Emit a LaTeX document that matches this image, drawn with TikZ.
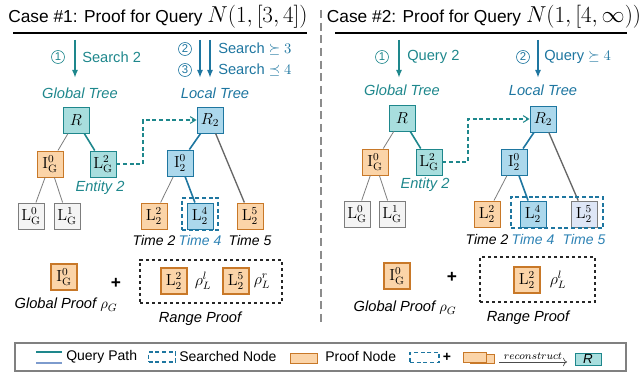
\documentclass[tikz,border=0pt]{standalone}
\usepackage[no-math]{fontspec}
\setmainfont{Liberation Sans}
\usetikzlibrary{arrows.meta}

\definecolor{tealD}{RGB}{30,135,140}
\definecolor{tealL}{RGB}{168,222,222}
\definecolor{blueD}{RGB}{30,118,160}
\definecolor{blueL}{RGB}{172,216,236}
\definecolor{blueT}{RGB}{45,130,180}
\definecolor{orangeD}{RGB}{200,120,40}
\definecolor{orangeL}{RGB}{251,212,168}
\definecolor{grayD}{RGB}{125,125,125}
\definecolor{grayL}{RGB}{244,244,244}
\definecolor{lavL}{RGB}{222,230,246}
\definecolor{pathB}{RGB}{125,155,205}

\tikzset{
  tbox/.style={draw, minimum size=19.5pt, inner sep=0pt, line width=0.7pt, font=\fontsize{11.5}{12}\selectfont},
  globalbox/.style={tbox, draw=tealD, fill=tealL},
  localbox/.style={tbox, draw=blueD, fill=blueL},
  proofbox/.style={tbox, draw=orangeD, fill=orangeL},
  idlebox/.style={tbox, draw=grayD, fill=grayL},
  searchbox/.style={draw=blueD, line width=1pt, dash pattern=on 3pt off 2pt, inner sep=0pt},
  rangebox/.style={draw=black!85, line width=0.8pt, dash pattern=on 2.5pt off 2pt, inner sep=0pt},
  thinedge/.style={draw=grayD, line width=0.6pt},
  darkedge/.style={draw=black!60, line width=1pt},
  tealpath/.style={draw=tealD, line width=1.2pt},
  bluepath/.style={draw=blueD, line width=1.2pt},
  link/.style={draw=tealD, line width=0.8pt, dash pattern=on 3pt off 2pt, -{Straight Barb[length=4pt, width=5pt]}},
  arr/.style={line width=1.3pt, -{Latex[length=6pt, width=4.5pt]}},
  ttl/.style={font=\fontsize{13}{15}\selectfont, inner sep=0pt},
  circnum/.style={circle, draw, line width=0.5pt, minimum size=9.75pt, inner sep=0pt, font=\fontsize{8.5}{9}\selectfont},
  lbl/.style={font=\fontsize{11}{13}\selectfont, inner sep=0pt},
  ital/.style={font=\fontsize{11}{13}\selectfont\itshape, inner sep=0pt},
  timelbl/.style={font=\fontsize{10.5}{12}\selectfont\itshape, inner sep=0pt},
  plussign/.style={font=\fontsize{13}{13}\selectfont\bfseries, inner sep=0pt},
  lgd/.style={font=\fontsize{10.5}{12}\selectfont, inner sep=0pt, anchor=west}
}

\begin{document}
\begin{tikzpicture}[x=0.75pt, y=-0.75pt]
  \useasboundingbox (0,0) rectangle (640,373);
  % Divider
  \draw[black!45, line width=1pt, dash pattern=on 6pt off 3.5pt] (321,10) -- (321,325);

  \begin{scope} % Case 1
    \node[ttl] (title1) at (158,17) {Case \#1: Proof for Query {\fontsize{16}{18}\selectfont$N(1,[3,4])$}};
    \draw[line width=0.8pt] (13,33) -- (307,33);
    % Global search
    \coordinate (s1a) at (75,40);
    \coordinate (s1b) at (75,78);
    \draw[arr, tealD] (s1a) -- (s1b);
    \node[circnum, tealD] (n1a) at (58,57) {1};
    \node[lbl, tealD, anchor=west] (srch1) at (82,57) {Search 2};
    % Local search
    \coordinate (s2a) at (200,40);
    \coordinate (s2b) at (200,78);
    \coordinate (s3a) at (210,40);
    \coordinate (s3b) at (210,78);
    \draw[arr, blueD] (s2a) -- (s2b);
    \draw[arr, blueD] (s3a) -- (s3b);
    \node[circnum, blueD] (n2a) at (185,49) {2};
    \node[circnum, blueD] (n3a) at (185,70) {3};
    \node[lbl, blueD, anchor=west] (srch2) at (218,49) {Search $\succeq 3$};
    \node[lbl, blueD, anchor=west] (srch3) at (218,70) {Search $\preceq 4$};
    \node[ital, tealD] (gt1) at (80,93) {Global Tree};
    \node[ital, blueD] (lt1) at (215,93) {Local Tree};
    % Global tree
    \node[globalbox] (rg1) at (76,120) {$R$};
    \node[proofbox] (ig1) at (50,164) {$\mathrm{I}^0_\mathrm{G}$};
    \node[globalbox] (lg1) at (103,164) {$\mathrm{L}^2_\mathrm{G}$};
    \node[idlebox] (lg01) at (31,216) {$\mathrm{L}^0_\mathrm{G}$};
    \node[idlebox] (lg11) at (67,216) {$\mathrm{L}^1_\mathrm{G}$};
    \node[ital, tealD] (ent1) at (100,188) {Entity 2};
    \draw[thinedge] (rg1) -- (ig1);
    \draw[tealpath] (rg1) -- (lg1);
    \draw[thinedge] (ig1) -- (lg01);
    \draw[thinedge] (ig1) -- (lg11);
    % Local tree
    \node[localbox] (rl1) at (210,120) {$R_2$};
    \node[localbox] (il1) at (180,163) {$\mathrm{I}^0_2$};
    \node[proofbox] (l21) at (154,216) {$\mathrm{L}^2_2$};
    \node[localbox] (l41) at (200,216) {$\mathrm{L}^4_2$};
    \node[proofbox] (l51) at (250,216) {$\mathrm{L}^5_2$};
    \draw[bluepath] (rl1) -- (il1);
    \draw[darkedge] (rl1) -- (l51);
    \draw[thinedge] (il1) -- (l21);
    \draw[bluepath] (il1) -- (l41);
    \node[searchbox, minimum width=27pt, minimum height=24pt] (sr1) at (200,214) {};
    \node[timelbl] (t21) at (154,241) {Time 2};
    \node[timelbl, blueT] (t41) at (200,241) {Time 4};
    \node[timelbl] (t51) at (250,241) {Time 5};
    % Entity link
    \coordinate (turn1) at (143,120);
    \draw[link] (lg1.east) -| (turn1) -- (rl1.west);
    % Proof
    \node[proofbox, line width=1pt] (pg1) at (64,277) {$\mathrm{I}^0_\mathrm{G}$};
    \node[plussign] (plus1) at (116,283) {+};
    \node[ital] (gp1) at (66,305) {Global Proof {\upshape$\rho_G$}};
    \node[rangebox, minimum width=106.5pt, minimum height=32.25pt] (rb1) at (211,281.5) {};
    \node[proofbox, line width=1pt] (pl21) at (174,281) {$\mathrm{L}^2_2$};
    \node[inner sep=0pt, font=\fontsize{11.5}{12}\selectfont] (rho1) at (203,281) {$\rho^l_L$};
    \node[proofbox, line width=1pt] (pl51) at (236,281) {$\mathrm{L}^5_2$};
    \node[inner sep=0pt, font=\fontsize{11.5}{12}\selectfont] (rho2) at (262,281) {$\rho^r_L$};
    \node[ital] (rp1) at (200,319) {Range Proof};
  \end{scope}

  \begin{scope} % Case 2
    \node[ttl] (title2) at (484,17) {Case \#2: Proof for Query {\fontsize{16}{18}\selectfont$N(1,[4,\infty))$}};
    \draw[line width=0.8pt] (335,33) -- (627,33);
    % Global query
    \coordinate (q1a) at (399,40);
    \coordinate (q1b) at (399,78);
    \draw[arr, tealD] (q1a) -- (q1b);
    \node[circnum, tealD] (n1b) at (382,57) {1};
    \node[lbl, tealD, anchor=west] (qry1) at (407,57) {Query 2};
    % Local query
    \coordinate (q2a) at (538,40);
    \coordinate (q2b) at (538,78);
    \draw[arr, blueD] (q2a) -- (q2b);
    \node[circnum, blueD] (n2b) at (523,57) {2};
    \node[lbl, blueD, anchor=west] (qry2) at (544,57) {Query $\succeq 4$};
    \node[ital, tealD] (gt2) at (402,90) {Global Tree};
    \node[ital, blueD] (lt2) at (543,90) {Local Tree};
    % Global tree
    \node[globalbox] (rg2) at (402,118) {$R$};
    \node[proofbox] (ig2) at (375,162) {$\mathrm{I}^0_\mathrm{G}$};
    \node[globalbox] (lg2) at (429,162) {$\mathrm{L}^2_\mathrm{G}$};
    \node[idlebox] (lg02) at (357,214) {$\mathrm{L}^0_\mathrm{G}$};
    \node[idlebox] (lg12) at (392,214) {$\mathrm{L}^1_\mathrm{G}$};
    \node[ital, tealD] (ent2) at (425,185) {Entity 2};
    \draw[thinedge] (rg2) -- (ig2);
    \draw[tealpath] (rg2) -- (lg2);
    \draw[thinedge] (ig2) -- (lg02);
    \draw[thinedge] (ig2) -- (lg12);
    % Local tree
    \node[localbox] (rl2) at (543,119) {$R_2$};
    \node[localbox] (il2) at (514,162) {$\mathrm{I}^0_2$};
    \node[proofbox] (l22) at (487,214) {$\mathrm{L}^2_2$};
    \node[localbox] (l42) at (533,214) {$\mathrm{L}^4_2$};
    \node[tbox, draw=grayD, fill=lavL] (l52) at (584,214) {$\mathrm{L}^5_2$};
    \draw[bluepath] (rl2) -- (il2);
    \draw[darkedge] (rl2) -- (l52);
    \draw[thinedge] (il2) -- (l22);
    \draw[bluepath] (il2) -- (l42);
    \node[searchbox, minimum width=69pt, minimum height=23.25pt] (sr2) at (557,212.5) {};
    \node[timelbl] (t22) at (487,240) {Time 2};
    \node[timelbl, blueT] (t42) at (533,240) {Time 4};
    \node[timelbl, blueT] (t52) at (584,240) {Time 5};
    % Entity link
    \coordinate (turn2) at (468,119);
    \draw[link] (lg2.east) -| (turn2) -- (rl2.west);
    % Proof
    \node[proofbox, line width=1pt] (pg2) at (397,276) {$\mathrm{I}^0_\mathrm{G}$};
    \node[plussign] (plus2) at (452,277) {+};
    \node[ital] (gp2) at (405,308) {Global Proof {\upshape$\rho_G$}};
    \node[rangebox, minimum width=86.25pt, minimum height=33.75pt] (rb2) at (537.5,279.5) {};
    \node[proofbox, line width=1pt] (pl22) at (527,280) {$\mathrm{L}^2_2$};
    \node[inner sep=0pt, font=\fontsize{11.5}{12}\selectfont] (rho3) at (558,280) {$\rho^l_L$};
    \node[ital] (rp2) at (528,318) {Range Proof};
  \end{scope}

  \begin{scope} % Legend
    \node[draw=black!50, line width=0.8pt, minimum width=458.25pt, minimum height=21pt, inner sep=0pt] (legend) at (320.5,357) {};
    \coordinate (qa) at (36,352);
    \coordinate (qb) at (62,352);
    \coordinate (qc) at (36,363);
    \coordinate (qd) at (62,363);
    \draw[tealD, line width=1pt] (qa) -- (qb);
    \draw[pathB, line width=1pt] (qc) -- (qd);
    \node[lgd] (lqp) at (66,357) {Query Path};
    \node[searchbox, minimum width=20.25pt, minimum height=7.5pt] (lsn) at (162,357) {};
    \node[lgd] (lsnt) at (179,357) {Searched Node};
    \node[proofbox, minimum width=20.25pt, minimum height=7.5pt] (lpn) at (303.5,358) {};
    \node[lgd] (lpnt) at (325,357) {Proof Node};
    \node[searchbox, minimum width=21.75pt, minimum height=7.5pt] (lsn2) at (424.5,357.5) {};
    \node[plussign, font=\fontsize{10.5}{11}\selectfont\bfseries] (lplus) at (447,357) {+};
    \node[proofbox, minimum width=18pt, minimum height=6.75pt] (lpb) at (482,358.5) {};
    \node[proofbox, minimum width=17.25pt, minimum height=7.5pt] (lpf) at (474.5,357) {};
    \coordinate (ra) at (499,362);
    \coordinate (rb) at (567,362);
    \draw[black!70, line width=0.5pt, -{To[length=3pt]}] (ra) -- (rb)
      node[midway, above=1.5pt, inner sep=0pt, font=\fontsize{8.5}{9}\selectfont, black] {$reconstruct$};
    \node[globalbox, minimum height=9pt, font=\fontsize{10}{10}\selectfont\itshape] (lgR) at (588,359) {R};
  \end{scope}
\end{tikzpicture}
\end{document}
